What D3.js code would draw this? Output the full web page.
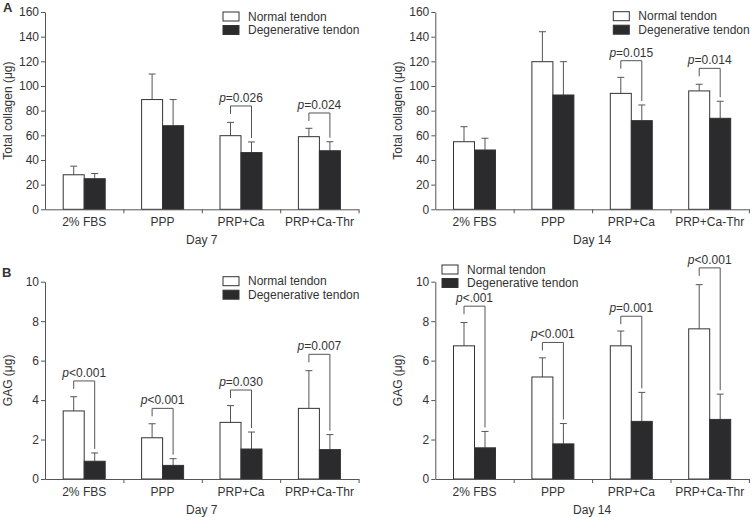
<!DOCTYPE html>
<html>
<head>
<meta charset="utf-8">
<script src="https://cdn.jsdelivr.net/npm/d3@7"></script>
<style>
  body { margin: 0; background: #fff; }
  svg text { font-family: "Liberation Sans", Arial, sans-serif; fill: #333; font-size: 12px; }
  .axis path, .axis line { stroke: #555; }
</style>
</head>
<body>
<script>

// categories and series
const categories = ["2% FBS", "PPP", "PRP+Ca", "PRP+Ca-Thr"];
const seriesNames = ["Normal tendon", "Degenerative tendon"];

// total collagen, day 7
const collagen7Normal = [28, 89, 59.7, 58.9];
const collagen7NormalErr = [7, 20.7, 10.8, 6.8];
const collagen7Degen = [24.8, 67.8, 46, 47.5];
const collagen7DegenErr = [4.2, 21.2, 8.6, 7.3];
const collagen7Bracket = [null, null, 83.8, 78.1];
const collagen7P = [null, null, "=0.026", "=0.024"];

// total collagen, day 14
const collagen14Normal = [54.8, 119.7, 94, 96];
const collagen14NormalErr = [12.2, 24.3, 13, 5.4];
const collagen14Degen = [48.1, 92.7, 71.9, 73.8];
const collagen14DegenErr = [9.5, 27, 12.7, 13.8];
const collagen14Bracket = [null, null, 120.5, 114.3];
const collagen14P = [null, null, "=0.015", "=0.014"];

// GAG, day 7
const gag7Normal = [3.45, 2.09, 2.87, 3.58];
const gag7NormalErr = [0.72, 0.71, 0.85, 1.91];
const gag7Degen = [0.9, 0.69, 1.52, 1.49];
const gag7DegenErr = [0.42, 0.34, 0.86, 0.76];
const gag7Bracket = [4.97, 3.58, 4.51, 6.32];
const gag7P = ["<0.001", "<0.001", "=0.030", "=0.007"];

// GAG, day 14
const gag14Normal = [6.75, 5.17, 6.75, 7.61];
const gag14NormalErr = [1.18, 0.97, 0.75, 2.24];
const gag14Degen = [1.58, 1.78, 2.92, 3.02];
const gag14DegenErr = [0.83, 1.03, 1.47, 1.28];
const gag14Bracket = [8.76, 6.92, 8.25, 10.7];
const gag14P = ["<.001", "<0.001", "=0.001", "<0.001"];

const collagenTicks = [0, 20, 40, 60, 80, 100, 120, 140, 160];
const gagTicks = [0, 2, 4, 6, 8, 10];

const w = 752;
const h = 517;

const svg = d3.select("body")
    .append("svg")
    .attr("width", w)
    .attr("height", h);

const panels = [
    {left: 45, top: 12, bottom: 209.3, yTicks: collagenTicks, title: "Total collagen (\u03bcg)", day: "Day 7",
     normal: collagen7Normal, normalErr: collagen7NormalErr, degen: collagen7Degen, degenErr: collagen7DegenErr,
     bracket: collagen7Bracket, p: collagen7P, legend: [223, 12]},
    {left: 435.3, top: 12, bottom: 209.3, yTicks: collagenTicks, title: "Total collagen (\u03bcg)", day: "Day 14",
     normal: collagen14Normal, normalErr: collagen14NormalErr, degen: collagen14Degen, degenErr: collagen14DegenErr,
     bracket: collagen14Bracket, p: collagen14P, legend: [613.3, 11.7]},
    {left: 45, top: 281.7, bottom: 479, yTicks: gagTicks, title: "GAG (\u03bcg)", day: "Day 7",
     normal: gag7Normal, normalErr: gag7NormalErr, degen: gag7Degen, degenErr: gag7DegenErr,
     bracket: gag7Bracket, p: gag7P, legend: [223, 276.7]},
    {left: 435.3, top: 281.7, bottom: 479, yTicks: gagTicks, title: "GAG (\u03bcg)", day: "Day 14",
     normal: gag14Normal, normalErr: gag14NormalErr, degen: gag14Degen, degenErr: gag14DegenErr,
     bracket: gag14Bracket, p: gag14P, legend: [442, 265]}
];

const plotW = 313.6;
const barW = 21;

panels.forEach(drawPanel);

function drawPanel(p) {
    let g = svg.append("g");

    let y = d3.scaleLinear()
        .domain([0, d3.max(p.yTicks)])
        .range([p.bottom, p.top]);

    let x = d3.scaleBand()
        .domain(categories)
        .range([p.left, p.left + plotW]);

    let xs = d3.scaleBand()
        .domain(["normal", "degen"])
        .range([x.bandwidth() / 2 - barW, x.bandwidth() / 2 + barW]);

    let rows = categories.map((c, i) => [
        {cat: c, key: "normal", v: p.normal[i], e: p.normalErr[i]},
        {cat: c, key: "degen", v: p.degen[i], e: p.degenErr[i]}
    ]).flat();

    let cx = d => x(d.cat) + xs(d.key) + xs.bandwidth() / 2;

    // error bars (upper only)
    g.selectAll(".err")
        .data(rows)
        .enter().append("line")
        .attr("x1", cx).attr("x2", cx)
        .attr("y1", d => y(d.v))
        .attr("y2", d => y(d.v + d.e))
        .attr("stroke", "#555");

    g.selectAll(".cap")
        .data(rows)
        .enter().append("line")
        .attr("x1", d => cx(d) - 3.5).attr("x2", d => cx(d) + 3.5)
        .attr("y1", d => y(d.v + d.e))
        .attr("y2", d => y(d.v + d.e))
        .attr("stroke", "#555");

    g.selectAll(".bar")
        .data(rows)
        .enter().append("rect")
        .attr("x", d => x(d.cat) + xs(d.key))
        .attr("y", d => y(d.v))
        .attr("width", xs.bandwidth())
        .attr("height", d => y(0) - y(d.v))
        .attr("fill", d => d.key == "normal" ? "#fff" : "#2b2b2d")
        .attr("stroke", "#333")
        .attr("stroke-width", 1);

    // significance brackets
    categories.forEach((c, i) => {
        if (p.bracket[i] == null) return;
        let xl = x(c) + xs("normal") + xs.bandwidth() / 2;
        let xr = x(c) + xs("degen") + xs.bandwidth() / 2;
        let yt = y(p.bracket[i]);
        let yb = y(p.degen[i] + p.degenErr[i]) - 4;
        g.append("path")
            .attr("d", `M${xl},${yt + 8}V${yt}H${xr}V${yb}`)
            .attr("fill", "none")
            .attr("stroke", "#555");
        let t = g.append("text")
            .attr("x", (xl + xr) / 2)
            .attr("y", yt - 4)
            .attr("text-anchor", "middle");
        t.append("tspan").attr("font-style", "italic").text("p");
        t.append("tspan").text(p.p[i]);
    });

    // axes
    let yAxis = d3.axisLeft(y)
        .tickValues(p.yTicks)
        .tickSize(4)
        .tickSizeOuter(0)
        .tickPadding(2);

    g.append("g")
        .attr("class", "axis")
        .attr("transform", `translate(${p.left},0)`)
        .call(yAxis)
        .call(a => a.selectAll("text").style("font-size", "12px").attr("fill", "#333"));

    let xBounds = d3.scaleLinear().domain([0, categories.length]).range([p.left, p.left + plotW]);

    g.append("g")
        .attr("class", "axis")
        .attr("transform", `translate(0,${p.bottom})`)
        .call(d3.axisBottom(xBounds).tickValues([1, 2, 3, 4]).tickSize(4).tickSizeOuter(0).tickFormat(""));

    g.append("g")
        .attr("class", "axis")
        .attr("transform", `translate(0,${p.bottom})`)
        .call(d3.axisBottom(x).tickSize(0).tickPadding(8.5))
        .call(a => a.select(".domain").remove())
        .call(a => a.selectAll("text").style("font-size", "12px").attr("fill", "#333"));

    g.append("text")
        .attr("transform", `translate(${p.left - 33.5},${(p.top + p.bottom) / 2}) rotate(-90)`)
        .attr("text-anchor", "middle")
        .text(p.title);

    g.append("text")
        .attr("x", p.left + plotW / 2)
        .attr("y", p.bottom + 34.5)
        .attr("text-anchor", "middle")
        .text(p.day);

    // legend
    seriesNames.forEach((s, i) => {
        let ly = p.legend[1] + i * 13.5;
        g.append("rect")
            .attr("x", p.legend[0])
            .attr("y", ly)
            .attr("width", 16)
            .attr("height", 9)
            .attr("fill", i == 0 ? "#fff" : "#2b2b2d")
            .attr("stroke", "#333");
        g.append("text")
            .attr("x", p.legend[0] + 25)
            .attr("y", ly + 8.7)
            .text(s);
    });
}

svg.append("text")
    .attr("x", 3).attr("y", 12)
    .attr("font-weight", "bold")
    .style("font-size", "13px")
    .text("A");

svg.append("text")
    .attr("x", 2).attr("y", 277)
    .attr("font-weight", "bold")
    .style("font-size", "13px")
    .text("B");

</script>
</body>
</html>
